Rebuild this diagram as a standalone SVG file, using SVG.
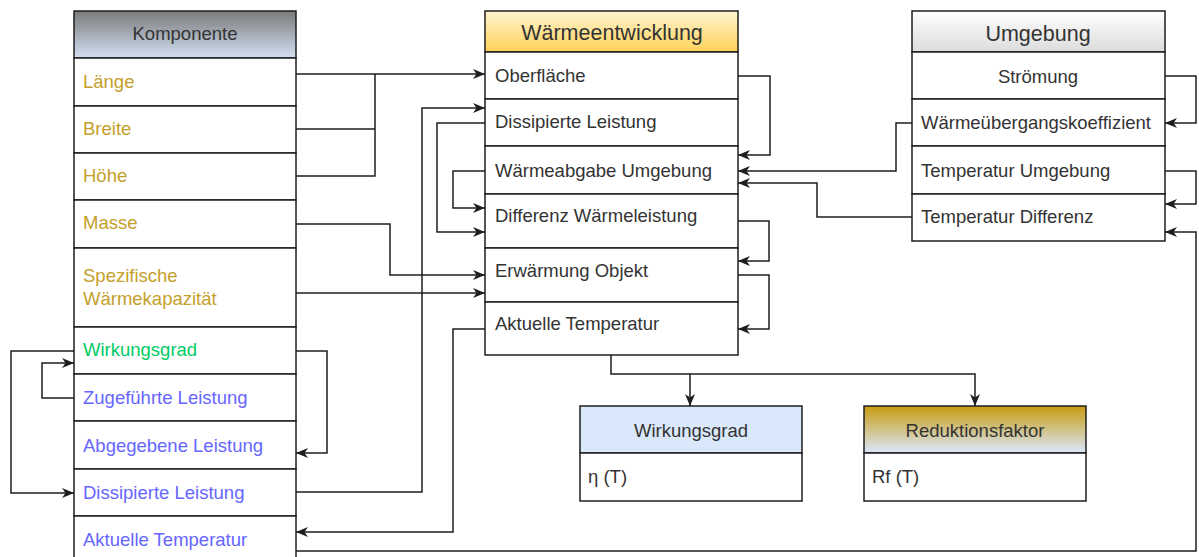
<svg xmlns="http://www.w3.org/2000/svg" width="1199" height="557" viewBox="0 0 1199 557">
  <style>
    .box { fill: #ffffff; stroke: #1e1e1e; stroke-width: 1.5; }
    .t { font-family: "Liberation Sans", Arial, sans-serif; font-size: 18.5px; fill: #333333; }
    .th { font-family: "Liberation Sans", Arial, sans-serif; font-size: 21.5px; fill: #333333; }
    .gold { fill: #c4a02a; }
    .green { fill: #00cc66; }
    .blue { fill: #6666ff; }
    .mid { text-anchor: middle; }
    .edge { fill: none; stroke: #1e1e1e; stroke-width: 1.5; }
    .arr { marker-end: url(#arrow); }
  </style>
  <defs>
    <linearGradient id="gKomp" x1="0" y1="0" x2="0" y2="1">
      <stop offset="0" stop-color="#7a7a7a"/>
      <stop offset="1" stop-color="#d2e0f3"/>
    </linearGradient>
    <linearGradient id="gWaerme" x1="0" y1="0" x2="0" y2="1">
      <stop offset="0" stop-color="#fff4d2"/>
      <stop offset="1" stop-color="#ffd257"/>
    </linearGradient>
    <linearGradient id="gUmg" x1="0" y1="0" x2="0" y2="1">
      <stop offset="0" stop-color="#ffffff"/>
      <stop offset="1" stop-color="#dcdcdc"/>
    </linearGradient>
    <linearGradient id="gRed" x1="0" y1="0" x2="0" y2="1">
      <stop offset="0" stop-color="#c79b10"/>
      <stop offset="1" stop-color="#dae8fc"/>
    </linearGradient>
    <marker id="arrow" viewBox="0 0 12 10" refX="12" refY="5" markerWidth="12" markerHeight="10" markerUnits="userSpaceOnUse" orient="auto">
      <path d="M0,0 L12,5 L0,10 L3.5,5 Z" fill="#1e1e1e"/>
    </marker>
  </defs>

  <rect width="1199" height="557" fill="#ffffff"/>

  <!-- Komponente -->
  <g id="node-komponente">
    <rect class="box" x="74" y="11" width="222" height="47" style="fill:url(#gKomp)"/>
    <rect class="box" x="74" y="58" width="222" height="48"/>
    <rect class="box" x="74" y="106" width="222" height="47"/>
    <rect class="box" x="74" y="153" width="222" height="47"/>
    <rect class="box" x="74" y="200" width="222" height="48"/>
    <rect class="box" x="74" y="248" width="222" height="79"/>
    <rect class="box" x="74" y="327" width="222" height="47"/>
    <rect class="box" x="74" y="374" width="222" height="47"/>
    <rect class="box" x="74" y="421" width="222" height="48"/>
    <rect class="box" x="74" y="469" width="222" height="47"/>
    <rect class="box" x="74" y="516" width="222" height="48"/>
    <text class="t mid" x="185" y="39.5">Komponente</text>
    <text class="t gold" x="83" y="87.5">Länge</text>
    <text class="t gold" x="83" y="134.5">Breite</text>
    <text class="t gold" x="83" y="181.5">Höhe</text>
    <text class="t gold" x="83" y="228.5">Masse</text>
    <text class="t gold" x="83" y="281.5">Spezifische</text>
    <text class="t gold" x="83" y="305">Wärmekapazität</text>
    <text class="t green" x="83" y="356">Wirkungsgrad</text>
    <text class="t blue" x="83" y="404">Zugeführte Leistung</text>
    <text class="t blue" x="83" y="451.5">Abgegebene Leistung</text>
    <text class="t blue" x="83" y="499">Dissipierte Leistung</text>
    <text class="t blue" x="83" y="545.5">Aktuelle Temperatur</text>
  </g>

  <!-- Wärmeentwicklung -->
  <g id="node-waermeentwicklung">
    <rect class="box" x="485" y="11" width="253" height="41" style="fill:url(#gWaerme)"/>
    <rect class="box" x="485" y="52" width="253" height="47"/>
    <rect class="box" x="485" y="99" width="253" height="47"/>
    <rect class="box" x="485" y="146" width="253" height="48"/>
    <rect class="box" x="485" y="194" width="253" height="54"/>
    <rect class="box" x="485" y="248" width="253" height="54"/>
    <rect class="box" x="485" y="302" width="253" height="53"/>
    <text class="th mid" x="612" y="39.5">Wärmeentwicklung</text>
    <text class="t" x="495" y="81.5">Oberfläche</text>
    <text class="t" x="495" y="128">Dissipierte Leistung</text>
    <text class="t" x="495" y="176.5">Wärmeabgabe Umgebung</text>
    <text class="t" x="495" y="221.5">Differenz Wärmeleistung</text>
    <text class="t" x="495" y="276.5">Erwärmung Objekt</text>
    <text class="t" x="495" y="329.5">Aktuelle Temperatur</text>
  </g>

  <!-- Umgebung -->
  <g id="node-umgebung">
    <rect class="box" x="912" y="11" width="253" height="41" style="fill:url(#gUmg)"/>
    <rect class="box" x="912" y="52" width="253" height="47"/>
    <rect class="box" x="912" y="99" width="253" height="47"/>
    <rect class="box" x="912" y="146" width="253" height="48"/>
    <rect class="box" x="912" y="194" width="253" height="47"/>
    <text class="th mid" x="1038" y="41">Umgebung</text>
    <text class="t mid" x="1038" y="82.5">Strömung</text>
    <text class="t" x="921" y="129">Wärmeübergangskoeffizient</text>
    <text class="t" x="921" y="176.5">Temperatur Umgebung</text>
    <text class="t" x="921" y="222.5">Temperatur Differenz</text>
  </g>

  <!-- Wirkungsgrad (result) -->
  <g id="node-wirkungsgrad">
    <rect class="box" x="580" y="406" width="222" height="47" style="fill:#dae8fc"/>
    <rect class="box" x="580" y="453" width="222" height="48"/>
    <text class="t mid" x="691" y="436.5">Wirkungsgrad</text>
    <text class="t" x="588" y="483">η (T)</text>
  </g>

  <!-- Reduktionsfaktor -->
  <g id="node-reduktionsfaktor">
    <rect class="box" x="864" y="406" width="222" height="47" style="fill:url(#gRed)"/>
    <rect class="box" x="864" y="453" width="222" height="48"/>
    <text class="t mid" x="975" y="436.5">Reduktionsfaktor</text>
    <text class="t" x="872" y="483">Rf (T)</text>
  </g>

  <!-- Connectors -->
  <g id="connectors">
    <!-- Länge / Breite / Höhe -> Oberfläche -->
    <path class="edge arr" d="M296,74 H485"/>
    <path class="edge" d="M296,129 H375 M296,176 H375 V74"/>
    <!-- Dissipierte Leistung (Komponente) -> Dissipierte Leistung -->
    <path class="edge arr" d="M296,492 H422 V108 H485"/>
    <!-- Dissipierte Leistung -> Differenz Wärmeleistung -->
    <path class="edge arr" d="M485,123 H437 V232 H485"/>
    <!-- Wärmeabgabe Umgebung -> Differenz Wärmeleistung -->
    <path class="edge arr" d="M485,171 H453 V208 H485"/>
    <!-- Masse -> Erwärmung Objekt -->
    <path class="edge arr" d="M296,224 H390 V275 H485"/>
    <!-- Spezifische Wärmekapazität -> Erwärmung Objekt -->
    <path class="edge arr" d="M296,293 H485"/>
    <!-- Aktuelle Temperatur -> Komponente -->
    <path class="edge arr" d="M485,329 H453 V532 H296"/>
    <!-- Wirkungsgrad -> Abgegebene Leistung -->
    <path class="edge arr" d="M296,351 H327 V453 H296"/>
    <!-- Zugeführte Leistung -> Wirkungsgrad -->
    <path class="edge arr" d="M74,398 H42 V363 H74"/>
    <!-- Wirkungsgrad -> Dissipierte Leistung -->
    <path class="edge arr" d="M74,351 H11 V493 H74"/>
    <!-- Oberfläche -> Wärmeabgabe Umgebung -->
    <path class="edge arr" d="M738,76 H770 V155 H738"/>
    <!-- Wärmeübergangskoeffizient -> Wärmeabgabe Umgebung -->
    <path class="edge arr" d="M912,123 H896 V171 H738"/>
    <!-- Temperatur Differenz -> Wärmeabgabe Umgebung -->
    <path class="edge arr" d="M912,217 H817 V183 H738"/>
    <!-- Differenz Wärmeleistung -> Erwärmung Objekt -->
    <path class="edge arr" d="M738,221 H769 V261 H738"/>
    <!-- Erwärmung Objekt -> Aktuelle Temperatur -->
    <path class="edge arr" d="M738,275 H769 V329 H738"/>
    <!-- Strömung -> Wärmeübergangskoeffizient -->
    <path class="edge arr" d="M1165,76 H1196 V123 H1165"/>
    <!-- Temperatur Umgebung -> Temperatur Differenz -->
    <path class="edge arr" d="M1165,171 H1196 V204 H1165"/>
    <!-- Aktuelle Temperatur (Komponente) -> Temperatur Differenz -->
    <path class="edge arr" d="M296,551 H1196 V232 H1165"/>
    <!-- Wärmeentwicklung -> Wirkungsgrad / Reduktionsfaktor -->
    <path class="edge arr" d="M611,355 V374 H690 V406"/>
    <path class="edge arr" d="M690,374 H975 V406"/>
  </g>
</svg>
